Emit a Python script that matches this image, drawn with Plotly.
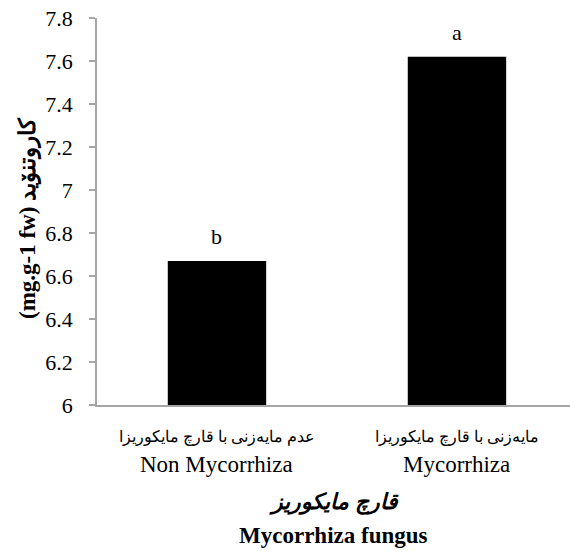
import plotly.graph_objects as go

# Carotenoid content by mycorrhiza treatment
categories = [0, 1]
kurdish_labels = ["عدم مایەزنی با قارچ مایکوریزا", "مایەزنی با قارچ مایکوریزا"]
english_labels = ["Non Mycorrhiza", "Mycorrhiza"]
carotenoid = [6.67, 7.62]
significance = ["b", "a"]
y_ticks = [6, 6.2, 6.4, 6.6, 6.8, 7, 7.2, 7.4, 7.6, 7.8]
y_tick_text = ["6", "6.2", "6.4", "6.6", "6.8", "7", "7.2", "7.4", "7.6", "7.8"]

serif = "Liberation Serif"
axis_grey = "#a6a6a6"

fig = go.Figure()
fig.add_trace(go.Bar(
    x=categories,
    y=carotenoid,
    width=0.41,
    marker=dict(color="black", line=dict(width=0)),
    hoverinfo="skip",
))

# significance letters above bars
for i, v, s in zip(categories, carotenoid, significance):
    fig.add_annotation(
        x=i, y=v, text=s, showarrow=False,
        xref="x", yref="y", yanchor="bottom", yshift=10,
        font=dict(family=serif, size=22, color="black"),
    )

# two-line category labels
for i, k, e in zip(categories, kurdish_labels, english_labels):
    fig.add_annotation(
        x=i, y=-0.0827, xref="x", yref="paper", text=k, showarrow=False,
        yanchor="middle", font=dict(family=serif, size=16, color="black"),
    )
    fig.add_annotation(
        x=i, y=-0.155, xref="x", yref="paper", text=e, showarrow=False,
        yanchor="middle", font=dict(family=serif, size=23, color="black"),
    )

# x-axis title, two lines
fig.add_annotation(
    x=0.5, y=-0.25, xref="paper", yref="paper",
    text="<b><i>قارچ مایکوریز</i></b>", showarrow=False, yanchor="middle",
    xanchor="center", font=dict(family=serif, size=22, color="black"),
)
fig.add_annotation(
    x=0.5, y=-0.336, xref="paper", yref="paper",
    text="<b>Mycorrhiza fungus</b>", showarrow=False, yanchor="middle",
    xanchor="center", font=dict(family=serif, size=23, color="black"),
)

# y-axis title
fig.add_annotation(
    x=-0.146, y=0.483, xref="paper", yref="paper",
    text="<b>(mg.g-1 fw) کاروتنۆید</b>",
    textangle=-90, showarrow=False, xanchor="center", yanchor="middle",
    font=dict(family=serif, size=23, color="black"),
)

fig.update_layout(
    width=570, height=556,
    margin=dict(l=97, r=0, t=18, b=151),
    plot_bgcolor="white", paper_bgcolor="white",
    showlegend=False,
    xaxis=dict(
        range=[-0.5, 1.471],
        tickvals=categories, showticklabels=False,
        showline=True, linecolor=axis_grey, linewidth=1.5,
        ticks="", showgrid=False, zeroline=False,
    ),
    yaxis=dict(
        range=[6, 7.8],
        tickvals=y_ticks, ticktext=y_tick_text,
        tickfont=dict(family=serif, size=22, color="black"),
        showline=True, linecolor=axis_grey, linewidth=1.5,
        ticks="outside", ticklen=6, tickcolor=axis_grey, tickwidth=1.5,
        ticklabelstandoff=12,
        showgrid=False, zeroline=False,
    ),
)

fig.write_html("out.html")
